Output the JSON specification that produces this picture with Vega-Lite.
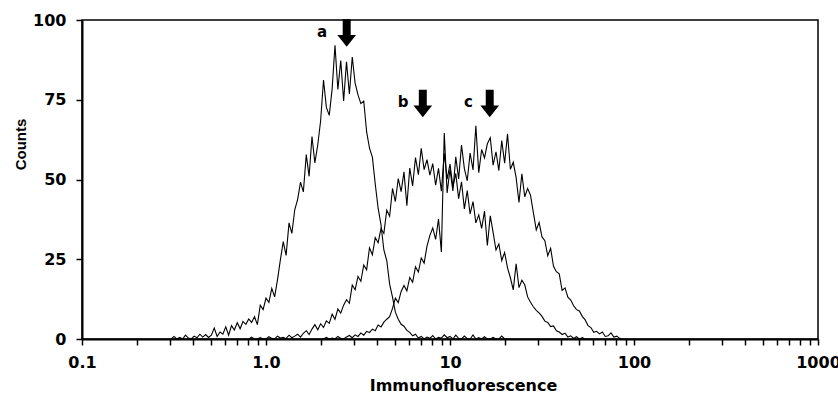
{
  "$schema": "https://vega.github.io/schema/vega-lite/v6.json",
  "width": 736,
  "height": 319,
  "autosize": {"type": "none"},
  "padding": {"left": 82, "top": 20, "right": 20, "bottom": 55},
  "background": "white",
  "config": {
    "view": {"stroke": "#000", "strokeWidth": 1.5},
    "axis": {
      "grid": false,
      "domainColor": "#000",
      "domainWidth": 2,
      "tickColor": "#000",
      "tickWidth": 1.5,
      "tickSize": 6,
      "labelFont": "DejaVu Sans",
      "labelFontSize": 16,
      "labelFontWeight": "bold",
      "labelColor": "#000",
      "titleFont": "DejaVu Sans",
      "titleFontSize": 16,
      "titleFontWeight": "bold",
      "titleColor": "#000"
    }
  },
  "encoding": {
    "x": {
      "field": "x",
      "type": "quantitative",
      "scale": {"type": "log", "domain": [0.1, 1000], "nice": false},
      "axis": {
        "title": "Immunofluorescence",
        "values": [0.1, 0.2, 0.3, 0.4, 0.5, 0.6, 0.7, 0.8, 0.9, 1, 2, 3, 4, 5, 6, 7, 8, 9, 10, 20, 30, 40, 50, 60, 70, 80, 90, 100, 200, 300, 400, 500, 600, 700, 800, 900, 1000],
        "labelExpr": "datum.value == 0.1 ? '0.1' : datum.value == 1 ? '1.0' : datum.value == 10 ? '10' : datum.value == 100 ? '100' : datum.value == 1000 ? '1000' : ''",
        "labelFlush": false,
        "labelOverlap": false,
        "labelBound": false,
        "labelPadding": 9,
        "titleX": 381,
        "titleY": 51,
        "titleAlign": "center",
        "titleBaseline": "alphabetic"
      }
    },
    "y": {
      "field": "count",
      "type": "quantitative",
      "scale": {"domain": [0, 100], "nice": false},
      "axis": {
        "title": "Counts",
        "values": [0, 25, 50, 75, 100],
        "labelPadding": 10,
        "titleFont": "Liberation Sans Narrow, Liberation Sans",
        "titleFontSize": 15,
        "titleFontWeight": "bold",
        "titleAngle": 270,
        "titleAlign": "center",
        "titleBaseline": "alphabetic",
        "titleX": -57,
        "titleY": 124
      }
    }
  },
  "layer": [
    {
      "data": {
        "values": [
          {"x": 0.3050, "a": 0},
          {"x": 0.3162, "a": 0.8},
          {"x": 0.3278, "a": 0},
          {"x": 0.3398, "a": 0.5},
          {"x": 0.3523, "a": 0},
          {"x": 0.3652, "a": 1.2},
          {"x": 0.3786, "a": 0.3},
          {"x": 0.3924, "a": 0},
          {"x": 0.4068, "a": 0.9},
          {"x": 0.4217, "a": 0.4},
          {"x": 0.4371, "a": 1.5},
          {"x": 0.4532, "a": 0.6},
          {"x": 0.4698, "a": 1.4},
          {"x": 0.4870, "a": 0.5},
          {"x": 0.5048, "a": 1.2},
          {"x": 0.5233, "a": 3.4},
          {"x": 0.5425, "a": 0.8},
          {"x": 0.5623, "a": 2.2},
          {"x": 0.5829, "a": 1.5},
          {"x": 0.6043, "a": 3.8},
          {"x": 0.6264, "a": 1.2},
          {"x": 0.6494, "a": 4.2},
          {"x": 0.6732, "a": 2.8},
          {"x": 0.6978, "a": 5.1},
          {"x": 0.7234, "a": 3.2},
          {"x": 0.7499, "a": 5.5},
          {"x": 0.7774, "a": 4.6},
          {"x": 0.8058, "a": 6.3, "b": 0},
          {"x": 0.8354, "a": 5.2, "b": 0.6},
          {"x": 0.8660, "a": 7.0, "b": 0},
          {"x": 0.8977, "a": 4.5, "b": 0},
          {"x": 0.9306, "a": 10.6, "b": 0.4},
          {"x": 0.9647, "a": 9.2, "b": 0},
          {"x": 1.000, "a": 12.8, "b": 0},
          {"x": 1.037, "a": 11.5, "b": 0.7},
          {"x": 1.075, "a": 15.9, "b": 0.2},
          {"x": 1.114, "a": 13.2, "b": 0},
          {"x": 1.155, "a": 18.6, "b": 0.9},
          {"x": 1.197, "a": 24.8, "b": 0.3},
          {"x": 1.241, "a": 30.5, "b": 0.5},
          {"x": 1.286, "a": 26.2, "b": 0.1},
          {"x": 1.334, "a": 36.4, "b": 1.2},
          {"x": 1.382, "a": 33.1, "b": 0.4},
          {"x": 1.433, "a": 40.5, "b": 0.9},
          {"x": 1.486, "a": 43.8, "b": 1.5},
          {"x": 1.540, "a": 49.2, "b": 0.6},
          {"x": 1.596, "a": 46.1, "b": 1.8},
          {"x": 1.655, "a": 57.8, "b": 2.6},
          {"x": 1.715, "a": 51.0, "b": 1.4},
          {"x": 1.778, "a": 63.5, "b": 3.1},
          {"x": 1.843, "a": 55.2, "b": 4.5},
          {"x": 1.911, "a": 60.8, "b": 2.9},
          {"x": 1.981, "a": 68.4, "b": 4.8},
          {"x": 2.054, "a": 81.2, "b": 3.6, "c": 0},
          {"x": 2.129, "a": 72.6, "b": 5.7, "c": 0.5},
          {"x": 2.207, "a": 70.1, "b": 4.9, "c": 0},
          {"x": 2.288, "a": 78.4, "b": 7.8, "c": 0.3},
          {"x": 2.371, "a": 92.1, "b": 6.2, "c": 0},
          {"x": 2.458, "a": 78.2, "b": 9.4, "c": 0.8},
          {"x": 2.548, "a": 87.3, "b": 8.1, "c": 0.2},
          {"x": 2.642, "a": 74.6, "b": 10.6, "c": 0},
          {"x": 2.738, "a": 86.9, "b": 12.3, "c": 0.6},
          {"x": 2.839, "a": 76.8, "b": 11.2, "c": 1.1},
          {"x": 2.943, "a": 88.4, "b": 16.9, "c": 0.4},
          {"x": 3.050, "a": 80.2, "b": 15.4, "c": 1.3},
          {"x": 3.162, "a": 76.5, "b": 19.6, "c": 0.8},
          {"x": 3.278, "a": 73.8, "b": 18.1, "c": 1.9},
          {"x": 3.398, "a": 74.6, "b": 23.2, "c": 1.2},
          {"x": 3.523, "a": 64.9, "b": 21.7, "c": 2.4},
          {"x": 3.652, "a": 59.8, "b": 28.6, "c": 2.0},
          {"x": 3.786, "a": 57.0, "b": 26.4, "c": 3.1},
          {"x": 3.924, "a": 48.6, "b": 31.8, "c": 2.6},
          {"x": 4.068, "a": 41.0, "b": 30.2, "c": 4.4},
          {"x": 4.217, "a": 35.8, "b": 34.6, "c": 3.8},
          {"x": 4.371, "a": 27.9, "b": 33.1, "c": 5.3},
          {"x": 4.532, "a": 24.6, "b": 40.4, "c": 6.2},
          {"x": 4.698, "a": 17.2, "b": 38.5, "c": 7.0},
          {"x": 4.870, "a": 13.1, "b": 47.2, "c": 9.6},
          {"x": 5.048, "a": 8.4, "b": 43.1, "c": 12.8},
          {"x": 5.233, "a": 6.2, "b": 50.3, "c": 11.4},
          {"x": 5.425, "a": 4.6, "b": 46.2, "c": 14.9},
          {"x": 5.623, "a": 4.0, "b": 52.4, "c": 16.8},
          {"x": 5.829, "a": 2.7, "b": 41.8, "c": 15.1},
          {"x": 6.043, "a": 2.1, "b": 53.6, "c": 19.3},
          {"x": 6.264, "a": 1.0, "b": 48.0, "c": 17.8},
          {"x": 6.494, "a": 1.5, "b": 56.9, "c": 22.6},
          {"x": 6.732, "a": 0.3, "b": 51.5, "c": 21.0},
          {"x": 6.978, "a": 0.8, "b": 59.8, "c": 25.4},
          {"x": 7.234, "a": 0, "b": 53.1, "c": 23.8},
          {"x": 7.499, "a": 0.6, "b": 56.2, "c": 29.1},
          {"x": 7.774, "a": 0.2, "b": 51.4, "c": 32.5},
          {"x": 8.058, "a": 1.1, "b": 55.0, "c": 34.8},
          {"x": 8.354, "a": 0, "b": 48.2, "c": 31.2},
          {"x": 8.660, "a": 0.5, "b": 53.5, "c": 37.6},
          {"x": 8.977, "a": 0.3, "b": 46.3, "c": 27.3},
          {"x": 9.306, "a": 1.3, "b": 58.2, "c": 64.6},
          {"x": 9.647, "a": 0.4, "b": 50.1, "c": 45.8},
          {"x": 10.00, "a": 0.8, "b": 54.8, "c": 53.2},
          {"x": 10.37, "a": 0, "b": 47.6, "c": 46.4},
          {"x": 10.75, "a": 1.2, "b": 51.9, "c": 57.1},
          {"x": 11.14, "a": 0.2, "b": 44.0, "c": 50.2},
          {"x": 11.55, "a": 0, "b": 49.3, "c": 60.8},
          {"x": 11.97, "a": 0.9, "b": 40.8, "c": 53.4},
          {"x": 12.41, "a": 0.1, "b": 46.5, "c": 49.6},
          {"x": 12.86, "a": 0, "b": 39.2, "c": 58.3},
          {"x": 13.34, "a": 1.3, "b": 43.1, "c": 53.0},
          {"x": 13.82, "a": 0, "b": 36.4, "c": 66.8},
          {"x": 14.33, "a": 0.4, "b": 38.9, "c": 52.1},
          {"x": 14.86, "a": 0, "b": 34.7, "c": 59.4},
          {"x": 15.40, "a": 0.7, "b": 40.1, "c": 56.8},
          {"x": 15.96, "a": 0, "b": 29.3, "c": 61.2},
          {"x": 16.55, "a": 0, "b": 38.6, "c": 63.1},
          {"x": 17.15, "a": 0.5, "b": 33.4, "c": 54.5},
          {"x": 17.78, "a": 0, "b": 27.9, "c": 58.7},
          {"x": 18.43, "a": 0, "b": 29.8, "c": 52.8},
          {"x": 19.11, "a": 0.9, "b": 24.6, "c": 62.2},
          {"x": 19.81, "a": 0, "b": 27.1, "c": 55.1},
          {"x": 20.54, "a": 0, "b": 22.3, "c": 64.3},
          {"x": 21.29, "b": 19.2, "c": 53.2},
          {"x": 22.07, "b": 15.4, "c": 55.4},
          {"x": 22.88, "b": 23.6, "c": 50.6},
          {"x": 23.71, "b": 16.1, "c": 42.8},
          {"x": 24.58, "b": 18.4, "c": 51.8},
          {"x": 25.48, "b": 17.0, "c": 44.6},
          {"x": 26.42, "b": 13.2, "c": 47.2},
          {"x": 27.38, "b": 11.5, "c": 45.1},
          {"x": 28.39, "b": 10.1, "c": 39.6},
          {"x": 29.43, "b": 9.0, "c": 34.2},
          {"x": 30.50, "b": 8.2, "c": 36.5},
          {"x": 31.62, "b": 7.1, "c": 32.0},
          {"x": 32.78, "b": 5.6, "c": 30.8},
          {"x": 33.98, "b": 5.2, "c": 26.1},
          {"x": 35.23, "b": 3.9, "c": 28.4},
          {"x": 36.52, "b": 4.1, "c": 22.8},
          {"x": 37.86, "b": 2.6, "c": 21.1},
          {"x": 39.24, "b": 2.2, "c": 20.4},
          {"x": 40.68, "b": 1.4, "c": 15.2},
          {"x": 42.17, "b": 1.8, "c": 16.0},
          {"x": 43.71, "b": 0.6, "c": 13.1},
          {"x": 45.32, "b": 1.0, "c": 12.2},
          {"x": 46.98, "b": 0.2, "c": 10.4},
          {"x": 48.70, "b": 0.7, "c": 9.2},
          {"x": 50.48, "b": 0, "c": 8.8},
          {"x": 52.33, "b": 0.4, "c": 7.1},
          {"x": 54.25, "b": 0, "c": 6.0},
          {"x": 56.23, "c": 4.2},
          {"x": 58.29, "c": 3.6},
          {"x": 60.43, "c": 2.1},
          {"x": 62.64, "c": 2.4},
          {"x": 64.94, "c": 1.6},
          {"x": 67.32, "c": 2.2},
          {"x": 69.78, "c": 0.8},
          {"x": 72.34, "c": 1.0},
          {"x": 74.99, "c": 1.9},
          {"x": 77.74, "c": 0.6},
          {"x": 80.58, "c": 0.9},
          {"x": 83.54, "c": 0.2},
          {"x": 86.60, "c": 0}
        ]
      },
      "transform": [
        {"fold": ["a", "b", "c"], "as": ["curve", "count"]},
        {"filter": "isValid(datum.count)"}
      ],
      "mark": {"type": "line", "color": "#000", "strokeWidth": 1.1, "interpolate": "linear"},
      "encoding": {"detail": {"field": "curve", "type": "nominal"}}
    },
    {
      "data": {
        "values": [
          {"x": 2.745, "count": 95.9},
          {"x": 7.115, "count": 73.8},
          {"x": 16.44, "count": 73.8}
        ]
      },
      "mark": {
        "type": "point",
        "shape": "M-0.29,-1L0.29,-1L0.29,0.14L0.68,0.14L0,1L-0.68,0.14L-0.29,0.14Z",
        "size": 756,
        "filled": true,
        "color": "#000",
        "opacity": 1,
        "strokeWidth": 0
      }
    },
    {
      "data": {
        "values": [
          {"x": 2.016, "count": 94.8, "label": "a"},
          {"x": 5.554, "count": 72.7, "label": "b"},
          {"x": 12.61, "count": 72.7, "label": "c"}
        ]
      },
      "mark": {
        "type": "text",
        "font": "DejaVu Sans",
        "fontSize": 15,
        "fontWeight": "bold",
        "align": "center",
        "baseline": "alphabetic",
        "color": "#000"
      },
      "encoding": {"text": {"field": "label"}}
    }
  ]
}
